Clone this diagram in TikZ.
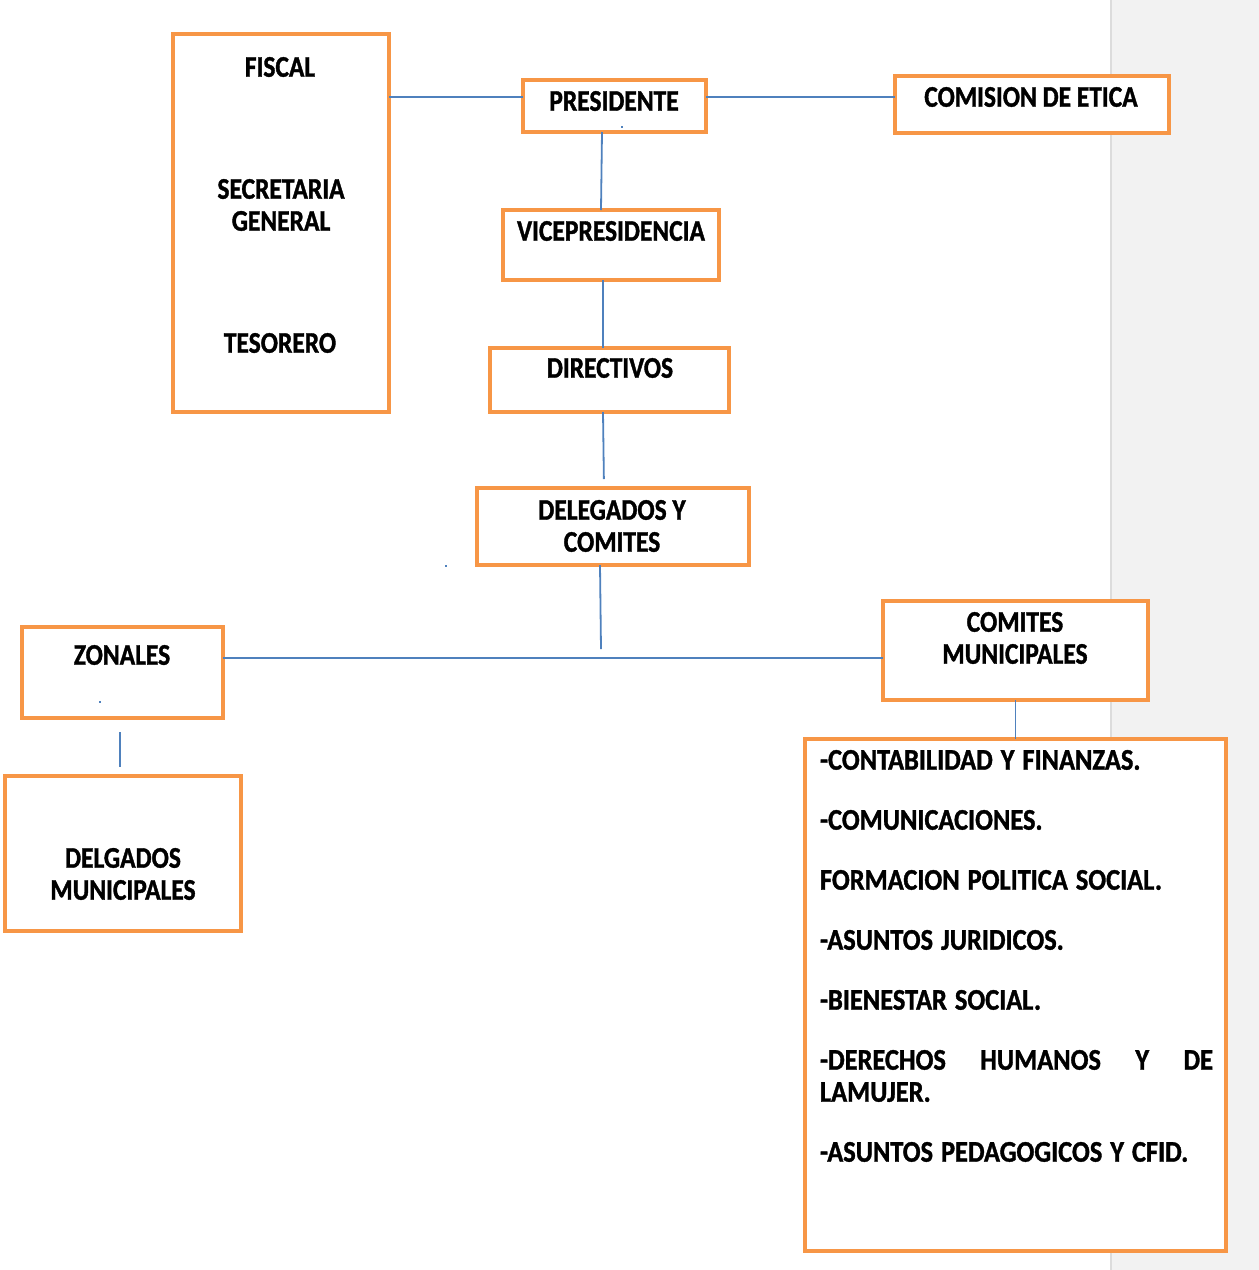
\documentclass[tikz,border=0pt]{standalone}
\usepackage{fontspec}
\newfontfamily\lblfont{Carlito}[FakeStretch=0.85,FakeBold=1.2]
\newfontfamily\listfont{Carlito}[FakeStretch=0.88,FakeBold=1.2]
\usetikzlibrary{calc}
\definecolor{boxorange}{HTML}{F79646}
\definecolor{linkblue}{HTML}{4F81BD}
\definecolor{sidegray}{HTML}{F2F2F2}
\definecolor{sideedge}{HTML}{DCDCDC}
\tikzset{
  box/.style={draw=boxorange, line width=4pt, fill=white, rectangle, inner sep=0pt, outer sep=0pt},
  conn/.style={draw=linkblue, line width=1.8pt},
  lbl/.style={inner sep=0pt, outer sep=0pt, align=center, font=\lblfont\bfseries\fontsize{30}{32}\selectfont},
  dot/.style={fill=linkblue, inner sep=0pt, minimum width=1.5pt, minimum height=2.5pt, rectangle}
}
\begin{document}
\begin{tikzpicture}[x=1pt,y=-1pt]
\useasboundingbox (0,0) rectangle (1259,1270);
% grey side strip
\fill[sidegray] (1111,0) rectangle (1259,1270);
\draw[sideedge, line width=1.2pt] (1111,0) -- (1111,1270);

% boxes
\node[box, minimum width=216pt, minimum height=378pt] (left) at (281,223) {};
\node[box, minimum width=183pt, minimum height=52pt] (pres) at (614.5,106) {};
\node[box, minimum width=274pt, minimum height=57pt] (etica) at (1032,104.5) {};
\node[box, minimum width=216pt, minimum height=70pt] (vice) at (611,245) {};
\node[box, minimum width=239pt, minimum height=64pt] (dir) at (609.5,380) {};
\node[box, minimum width=272pt, minimum height=77pt] (del) at (613,526.5) {};
\node[box, minimum width=201pt, minimum height=91pt] (zon) at (122.5,672.5) {};
\node[box, minimum width=236pt, minimum height=155pt] (delg) at (123,853.5) {};
\node[box, minimum width=265pt, minimum height=99pt] (com) at (1015.5,650.5) {};
\node[box, minimum width=421pt, minimum height=512pt] (list) at (1015.5,995) {};

% labels
\node[lbl] (tfiscal) at (280,67) {FISCAL};
\node[lbl] (tsecre) at (281,205) {SECRETARIA\\GENERAL};
\node[lbl] (tteso) at (280,343) {TESORERO};
\node[lbl] (tpres) at (614,101) {PRESIDENTE};
\node[lbl] (tetica) at (1031,97) {COMISION DE ETICA};
\node[lbl] (tvice) at (611,231) {VICEPRESIDENCIA};
\node[lbl] (tdir) at (610,368) {DIRECTIVOS};
\node[lbl] (tdel) at (612,526) {DELEGADOS Y\\COMITES};
\node[lbl] (tzon) at (122,655) {ZONALES};
\node[lbl] (tdelg) at (123,874) {DELGADOS\\MUNICIPALES};
\node[lbl] (tcom) at (1015,638) {COMITES\\MUNICIPALES};
\node[lbl, font=\listfont\bfseries\fontsize{30}{32}\selectfont, anchor=north west, align=justify, text width=393pt] (tlist) at (820,750) {%
\setlength{\parskip}{28pt}\hyphenpenalty=10000 \spaceskip=8pt plus 40pt
-CONTABILIDAD Y FINANZAS.\par
-COMUNICACIONES.\par
FORMACION POLITICA SOCIAL.\par
-ASUNTOS JURIDICOS.\par
-BIENESTAR SOCIAL.\par
-DERECHOS HUMANOS Y DE\linebreak LAMUJER.\par
-ASUNTOS PEDAGOGICOS Y CFID.};

% connectors
\coordinate (pl) at ($(pres.west)+(0,-9)$);
\coordinate (pr) at ($(pres.east)+(0,-9)$);
\draw[conn] (pl -| left.east) -- (pl);
\draw[conn] (pr) -- (pr -| etica.west);
\draw[conn] ([xshift=-12.5pt]pres.south) -- ([xshift=-10pt]vice.north);
\draw[conn] ([xshift=-8pt]vice.south) -- ([xshift=-6.5pt]dir.north);
\draw[conn, shorten >=9pt] ([xshift=-6.5pt]dir.south) -- ([xshift=-9pt]del.north);
\coordinate (hjoin) at (601,649);
\draw[conn] ([xshift=-13pt]del.south) -- (hjoin);
\coordinate (hz) at ($(zon.east)+(0,-14.5)$);
\draw[conn] (hz) -- (hz -| com.west);
\draw[conn, shorten <=14pt, shorten >=9pt] ([xshift=-2.5pt]zon.south) -- ([xshift=-3pt]delg.north);
\draw[conn] (com.south) -- (list.north);

% small stray marks
\node[dot] (d1) at (622,127) {};
\node[dot] (d2) at (100,702) {};
\node[dot] (d3) at (446,566) {};
\end{tikzpicture}
\end{document}
